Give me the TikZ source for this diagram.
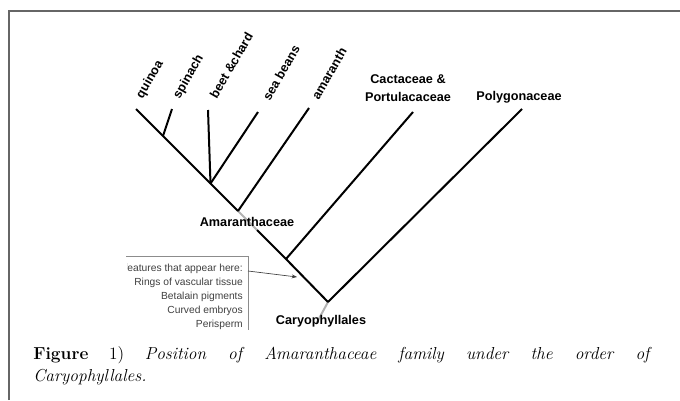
\documentclass[tikz,border=0pt]{standalone}
\usepackage{fontspec}
\setsansfont{Liberation Sans}
\usetikzlibrary{arrows.meta}
\begin{document}
\begin{tikzpicture}[x=0.75pt,y=-0.75pt,
    taxon/.style={font=\sffamily\bfseries\fontsize{9.5}{13.5}\selectfont, inner sep=0pt},
    leaf/.style={taxon, rotate=60, anchor=south west},
    branch/.style={line width=1.5pt, black},
    faded/.style={line width=1.5pt, black!30},
    features/.style={font=\sffamily\fontsize{7.7}{10.6}\selectfont, text=black!75, align=right, inner sep=0pt},
    figcap/.style={anchor=base west, inner sep=0pt}]
\useasboundingbox (0,0) rectangle (680,400);
% page frame
\draw [black!60, line width=1.5pt] (8.7,400) -- (8.7,10.7) -- (680,10.7);

% tips and forks
\coordinate (quinoaTip) at (136,109);
\coordinate (spinachTip) at (172,109);
\coordinate (beetTip) at (208,110);
\coordinate (seaTip) at (258,112);
\coordinate (amarTip) at (309,108);
\coordinate (cactTip) at (413,112);
\coordinate (polyTip) at (522,109);
\coordinate (jSpin) at (163,136);
\coordinate (jBeet) at (210.5,183.5);
\coordinate (jAmar) at (238,211);
\coordinate (gEnd) at (257,230);
\coordinate (jCact) at (286,259);
\coordinate (jRoot) at (328,302);
\coordinate (rootEnd) at (316,324);

% leaf labels
\node [leaf] (quinoa) at (145,101) {quinoa};
\node [leaf] (spinach) at (182,101) {spinach};
\node [leaf] (beet) at (217,100) {beet \&chard};
\node [leaf] (sea) at (270,102) {sea beans};
\node [leaf] (amaranth) at (319,101) {amaranth};

% branches
\draw [faded] (jAmar) -- (gEnd);
\draw [faded] (jRoot) -- (rootEnd);
\draw [branch] (quinoaTip) -- (jSpin) -- (jBeet) -- (jAmar);
\draw [branch] (gEnd) -- (jCact) -- (jRoot);
\draw [branch] (spinachTip) -- (jSpin);
\draw [branch] (beetTip) -- (jBeet);
\draw [branch] (seaTip) -- (jBeet);
\draw [branch] (amarTip) -- (jAmar);
\draw [branch] (cactTip) -- (jCact);
\draw [branch] (polyTip) -- (jRoot);

% group labels
\node [taxon] (amar) at (247,221.5) {Amaranthaceae};
\node [taxon] (caryo) at (321,321.5) {Caryophyllales};
\node [taxon, align=center] (cact) at (408,88) {Cactaceae \&\\Portulacaceae};
\node [taxon] (poly) at (519,97) {Polygonaceae};

% features box
\draw [black!45, line width=0.6pt] (126,256) -- (248,256) -- (248,330);
\begin{scope}
  \clip (127,250) rectangle (250,335);
  \node [features, anchor=north east] (feat) at (243,263.5)
    {features that appear here:\\Rings of vascular tissue\\Betalain pigments\\Curved embryos\\Perisperm};
\end{scope}
\coordinate (arrS) at (248,271);
\coordinate (arrE) at (297,277);
\draw [-{Stealth[length=4pt,width=3pt]}, black!75, line width=0.5pt] (arrS) -- (arrE);

% caption
\node [figcap] (cap) at (33,359.3) {\parbox[t]{464pt}{\fontsize{13}{16.3}\selectfont%
  \textbf{Figure} 1) \textit{Position of Amaranthaceae family under the order of}\linebreak
  \textit{Caryophyllales.}}};
\end{tikzpicture}
\end{document}
